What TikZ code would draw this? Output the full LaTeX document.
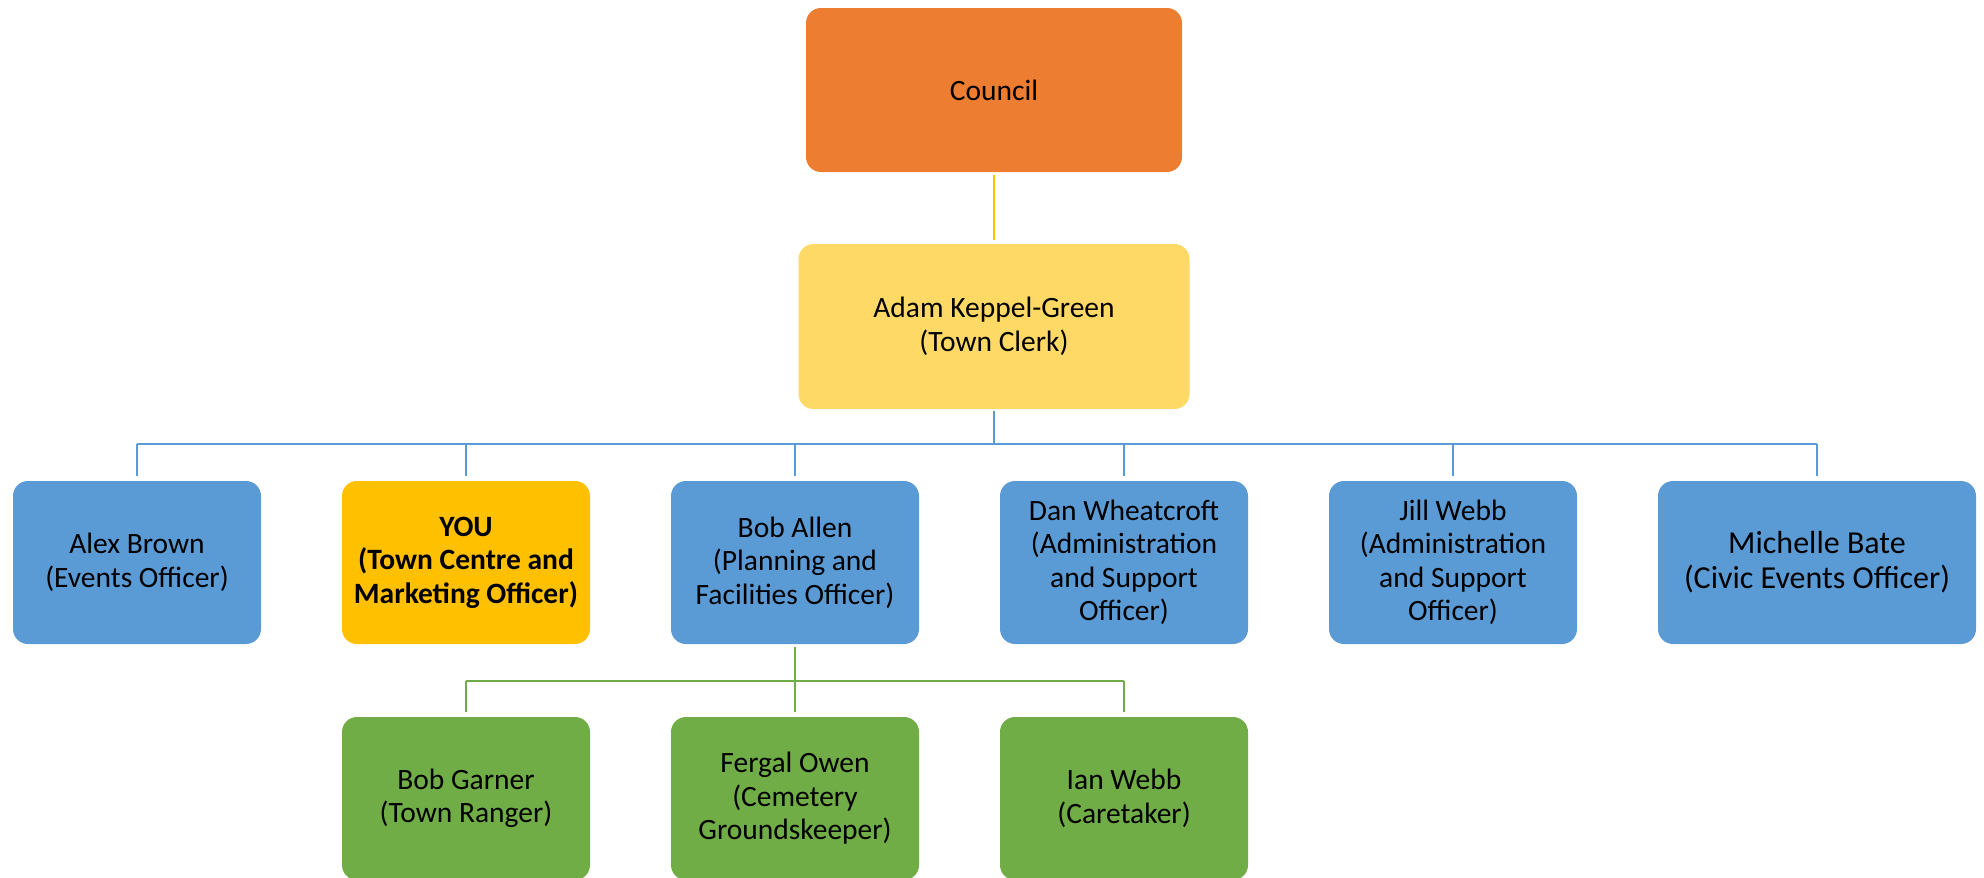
\documentclass[tikz,border=0pt]{standalone}
\usepackage{fontspec}
\setmainfont{Carlito}
\definecolor{cOrange}{HTML}{ED7D31}
\definecolor{cLightGold}{HTML}{FFD966}
\definecolor{cGold}{HTML}{FFC000}
\definecolor{cBlue}{HTML}{5B9BD5}
\definecolor{cGreen}{HTML}{70AD47}
\tikzset{
  box/.style={rounded corners=15pt, inner sep=0pt, align=center, text=black,
    font=\fontsize{29.5}{33.5}\selectfont, minimum height=163pt, minimum width=248pt},
  conn/.style={line width=2.8pt, shorten <=3pt, shorten >=4pt},
  seg/.style={line width=2.8pt}
}
\begin{document}
\begin{tikzpicture}[x=1pt,y=-1pt]
\useasboundingbox (0,0) rectangle (1984,878);
% top
\node[box, fill=cOrange, minimum width=376pt, minimum height=164pt] (council) at (994,90) {Council};
\node[box, fill=cLightGold, minimum width=391pt, minimum height=165pt] (adam) at (994,326.5) {Adam Keppel-Green\\(Town Clerk)};
% row 2
\node[box, fill=cBlue] (alex) at (137,562.5) {Alex Brown\\(Events Officer)};
\node[box, fill=cGold, font=\fontsize{29.5}{33.5}\selectfont\bfseries] (you) at (466,562.5) {YOU\\(Town Centre and\\Marketing Officer)};
\node[box, fill=cBlue] (boba) at (795,562.5) {Bob Allen\\(Planning and\\Facilities Officer)};
\node[box, fill=cBlue] (dan) at (1124,562.5) {Dan Wheatcroft\\(Administration\\and Support\\Officer)};
\node[box, fill=cBlue] (jill) at (1453,562.5) {Jill Webb\\(Administration\\and Support\\Officer)};
\node[box, fill=cBlue, minimum width=318pt, font=\fontsize{32}{35}\selectfont] (mich) at (1817,562.5) {Michelle Bate\\(Civic Events Officer)};
% row 3
\node[box, fill=cGreen] (garner) at (466,798.5) {Bob Garner\\(Town Ranger)};
\node[box, fill=cGreen] (fergal) at (795,798.5) {Fergal Owen\\(Cemetery\\Groundskeeper)};
\node[box, fill=cGreen] (ian) at (1124,798.5) {Ian Webb\\(Caretaker)};
% connectors
\draw[conn, draw=cGold] (council.south) -- (adam.north);
\coordinate (bus) at (994,444);
\draw[seg, draw=cBlue, shorten <=2pt] (adam.south) -- (bus);
\draw[seg, draw=cBlue] (alex.north |- bus) -- (mich.north |- bus);
\foreach \n in {alex,you,boba,dan,jill,mich}{
  \draw[seg, draw=cBlue, shorten >=5pt] (\n.north |- bus) -- (\n.north);
}
\coordinate (gbus) at (795,681);
\draw[seg, draw=cGreen, shorten <=3pt] (boba.south) -- (gbus);
\draw[seg, draw=cGreen] (garner.north |- gbus) -- (ian.north |- gbus);
\foreach \n in {garner,fergal,ian}{
  \draw[seg, draw=cGreen, shorten >=5pt] (\n.north |- gbus) -- (\n.north);
}
\end{tikzpicture}
\end{document}
